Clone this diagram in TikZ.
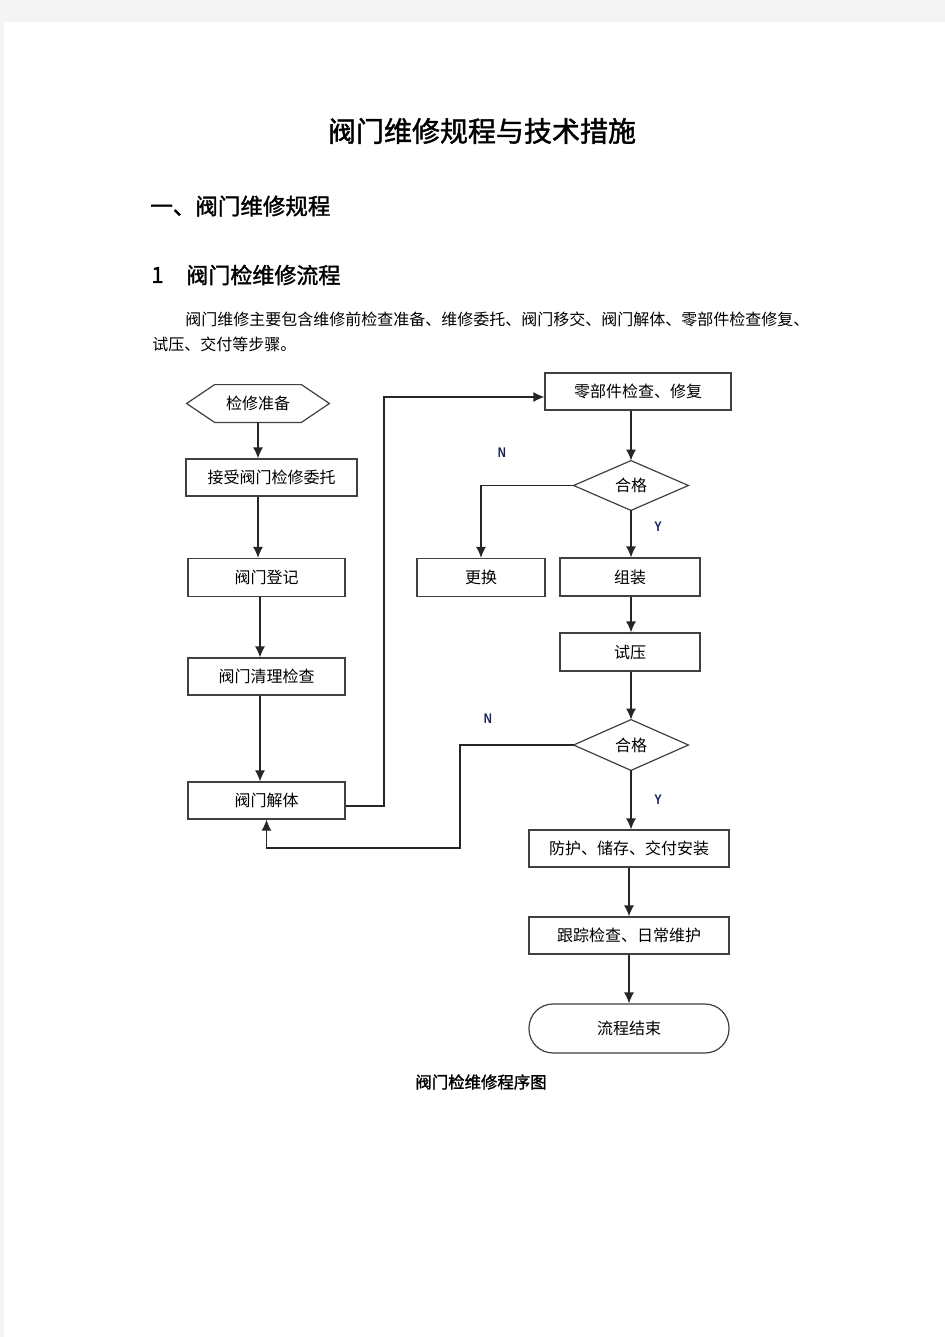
\documentclass[tikz,border=0pt]{standalone}
\usepackage{fontspec}
\setmainfont{Noto Sans CJK SC}[AutoFakeBold=1.5]
\newfontfamily\labfont{Liberation Sans}[FakeStretch=0.8]
\usetikzlibrary{arrows.meta}
\definecolor{pagebg}{HTML}{F4F4F4}
\definecolor{labcol}{RGB}{25,35,90}
\begin{document}
\begin{tikzpicture}[x=0.5pt,y=-0.5pt,
  box/.style={draw=black!75, line width=0.6pt, inner sep=0pt, font=\fontsize{8}{9}\selectfont, fill=white},
  ghost/.style={inner sep=0pt, font=\fontsize{8}{9}\selectfont},
  outline/.style={draw=black!75, line width=0.6pt},
  arr/.style={draw=black!85, line width=0.65pt, -{Latex[length=5.5pt,width=5pt]}},
  lab/.style={inner sep=0pt, font=\fontsize{7}{8}\selectfont\labfont\bfseries, text=labcol},
  txt/.style={inner sep=0pt, anchor=west, font=\fontsize{8}{9}\selectfont}]
% page
\fill[pagebg] (0,0) rectangle (945,1337);
\fill[white] (4,22) rectangle (945,1337);
\useasboundingbox (0,0) rectangle (945,1337);
% texts
\node[inner sep=0pt, font=\fontsize{14}{16}\selectfont\bfseries] (title) at (482,131) {阀门维修规程与技术措施};
\node[txt, font=\fontsize{11.25}{13}\selectfont\bfseries] (h1) at (150,206) {一、阀门维修规程};
\node[txt, font=\fontsize{11}{13}\selectfont\bfseries] (h2num) at (151,275) {1};
\node[txt, font=\fontsize{11}{13}\selectfont\bfseries] (h2) at (186,275) {阀门检维修流程};
\node[txt] (p1) at (185,319) {阀门维修主要包含维修前检查准备、维修委托、阀门移交、阀门解体、零部件检查修复、};
\node[txt] (p2) at (152,344) {试压、交付等步骤。};
\node[inner sep=0pt, font=\fontsize{8.2}{9}\selectfont\bfseries] (cap) at (481,1082) {阀门检维修程序图};
% nodes
\node[ghost, minimum width=71pt, minimum height=18.5pt] (prep) at (258,403.5) {检修准备};
\draw[outline] ([xshift=14pt]prep.north west) -- ([xshift=-14pt]prep.north east) -- (prep.east)
  -- ([xshift=-14pt]prep.south east) -- ([xshift=14pt]prep.south west) -- (prep.west) -- cycle;
\node[box, minimum width=85.5pt, minimum height=18.5pt] (accept) at (271.5,477.5) {接受阀门检修委托};
\node[box, minimum width=78.5pt, minimum height=19pt] (reg) at (266.5,577.5) {阀门登记};
\node[box, minimum width=78.5pt, minimum height=18.5pt] (clean) at (266.5,676.5) {阀门清理检查};
\node[box, minimum width=78.5pt, minimum height=18.5pt] (dis) at (266.5,800.5) {阀门解体};
\node[box, minimum width=93pt, minimum height=18.5pt] (parts) at (638,391.5) {零部件检查、修复};
\node[ghost, minimum width=57pt, minimum height=24.5pt] (d1) at (631,485.5) {合格};
\draw[outline] (d1.west) -- (d1.north) -- (d1.east) -- (d1.south) -- cycle;
\node[box, minimum width=64pt, minimum height=19pt] (repl) at (481,577.5) {更换};
\node[box, minimum width=70pt, minimum height=19pt] (asm) at (630,577) {组装};
\node[box, minimum width=70pt, minimum height=19pt] (test) at (630,652) {试压};
\node[ghost, minimum width=57pt, minimum height=25pt] (d2) at (631,745) {合格};
\draw[outline] (d2.west) -- (d2.north) -- (d2.east) -- (d2.south) -- cycle;
\node[box, minimum width=100pt, minimum height=18.5pt] (prot) at (629,848.5) {防护、储存、交付安装};
\node[box, minimum width=100pt, minimum height=18.5pt] (track) at (629,935.5) {跟踪检查、日常维护};
\node[box, minimum width=100pt, minimum height=24.5pt, rounded corners=12pt] (end) at (629,1028.5) {流程结束};
% labels
\node[lab] (n1) at (502,453) {N};
\node[lab] (y1) at (658,527) {Y};
\node[lab] (n2) at (488,719) {N};
\node[lab] (y2) at (658,800) {Y};
% connectors
\coordinate (cx) at (260,0);
\coordinate (j1) at (384,806);
\coordinate (j2) at (384,397);
\coordinate (k1) at (460,848);
\draw[arr] (prep.south) -- (prep.south |- accept.north);
\draw[arr] (prep.south |- accept.south) -- (prep.south |- reg.north);
\draw[arr] (cx |- reg.south) -- (cx |- clean.north);
\draw[arr] (cx |- clean.south) -- (cx |- dis.north);
\draw[arr] (dis.east |- j1) -- (j1) -- (j2) -- (parts.west |- j2);
\draw[arr] (d1.north |- parts.south) -- (d1.north);
\draw[arr] (d1.west) -| (repl.north);
\draw[arr] (d1.south) -- (d1.south |- asm.north);
\draw[arr] (d1.south |- asm.south) -- (d1.south |- test.north);
\draw[arr] (d1.south |- test.south) -- (d2.north);
\draw[arr] (d2.west) -| (k1) -| (dis.south);
\draw[arr] (d2.south) -- (d2.south |- prot.north);
\draw[arr] (prot.south) -- (track.north);
\draw[arr] (track.south) -- (end.north);
\end{tikzpicture}
\end{document}
